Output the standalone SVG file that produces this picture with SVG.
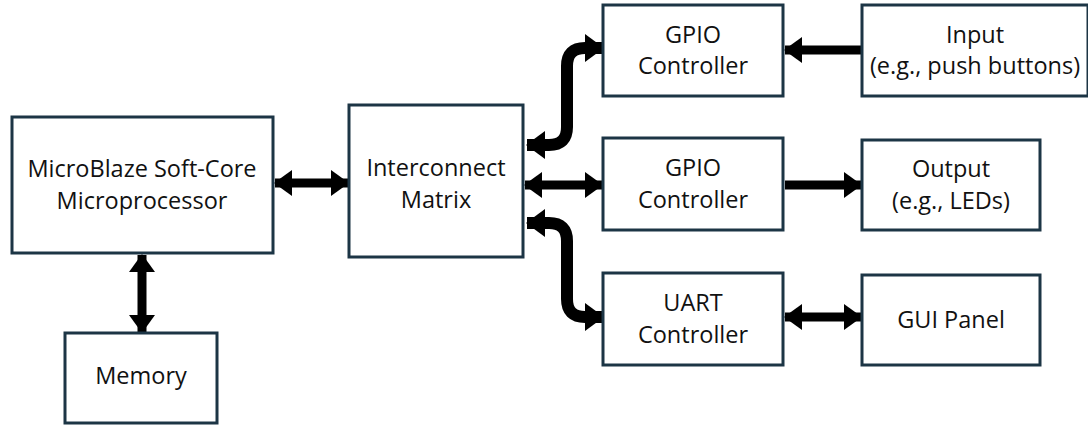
<svg xmlns="http://www.w3.org/2000/svg" width="1088" height="425" viewBox="0 0 1088 425">
<style>
.box{fill:#fff;stroke:#1c3545;stroke-width:3}
.t{font-family:"Open Sans","Liberation Sans",sans-serif;font-size:23.5px;fill:#111;text-anchor:middle}
.c{fill:none;stroke:#000;stroke-width:9}
.cc{fill:none;stroke:#000;stroke-width:12}
</style>
<defs>
<marker id="ah" markerUnits="userSpaceOnUse" markerWidth="18" markerHeight="26" refX="17" refY="13" orient="auto-start-reverse" viewBox="0 0 18 26">
<path d="M0,0 L18,13 L0,26 Z" fill="#000"/>
</marker>
<marker id="ahb" markerUnits="userSpaceOnUse" markerWidth="19" markerHeight="28" refX="18" refY="14" orient="auto-start-reverse" viewBox="0 0 19 28">
<path d="M0,0 L19,14 L0,28 Z" fill="#000"/>
</marker>
</defs>
<rect width="1088" height="425" fill="#fff"/>
<g id="connectors">
<path class="c" d="M275,183 H348" marker-start="url(#ah)" marker-end="url(#ah)"/>
<path class="c" d="M142,255 V332" marker-start="url(#ah)" marker-end="url(#ah)"/>
<path class="cc" d="M527,145 H549 Q567,145 567,127 V66 Q567,48 585,48 H603" marker-start="url(#ahb)" marker-end="url(#ahb)"/>
<path class="c" d="M525,185 H602" marker-start="url(#ah)" marker-end="url(#ah)"/>
<path class="cc" d="M527,223 H549 Q567,223 567,241 V299 Q567,317 585,317 H603" marker-start="url(#ahb)" marker-end="url(#ahb)"/>
<path class="c" d="M862,50 H785" marker-end="url(#ah)"/>
<path class="c" d="M785,185 H861" marker-end="url(#ah)"/>
<path class="c" d="M785,317 H861" marker-start="url(#ah)" marker-end="url(#ah)"/>
</g>
<g id="microblaze"><rect class="box" x="12" y="117" width="261" height="136"/><text class="t" x="142" y="177">MicroBlaze Soft-Core</text><text class="t" x="142" y="209">Microprocessor</text></g>
<g id="memory"><rect class="box" x="65" y="333" width="152" height="90"/><text class="t" x="141" y="384">Memory</text></g>
<g id="interconnect"><rect class="box" x="349" y="105" width="174" height="152"/><text class="t" x="436" y="176">Interconnect</text><text class="t" x="436" y="208">Matrix</text></g>
<g id="gpio1"><rect class="box" x="603" y="5" width="180" height="91"/><text class="t" x="693" y="43">GPIO</text><text class="t" x="693" y="74">Controller</text></g>
<g id="gpio2"><rect class="box" x="603" y="138" width="180" height="92"/><text class="t" x="693" y="176">GPIO</text><text class="t" x="693" y="208">Controller</text></g>
<g id="uart"><rect class="box" x="603" y="273" width="180" height="92"/><text class="t" x="693" y="311">UART</text><text class="t" x="693" y="343">Controller</text></g>
<g id="input"><rect class="box" x="862" y="5" width="226" height="91"/><text class="t" x="975" y="43">Input</text><text class="t" x="975" y="74">(e.g., push buttons)</text></g>
<g id="output"><rect class="box" x="862" y="140" width="178" height="90"/><text class="t" x="951" y="177">Output</text><text class="t" x="951" y="209">(e.g., LEDs)</text></g>
<g id="gui"><rect class="box" x="862" y="275" width="178" height="90"/><text class="t" x="951" y="328">GUI Panel</text></g>
</svg>
